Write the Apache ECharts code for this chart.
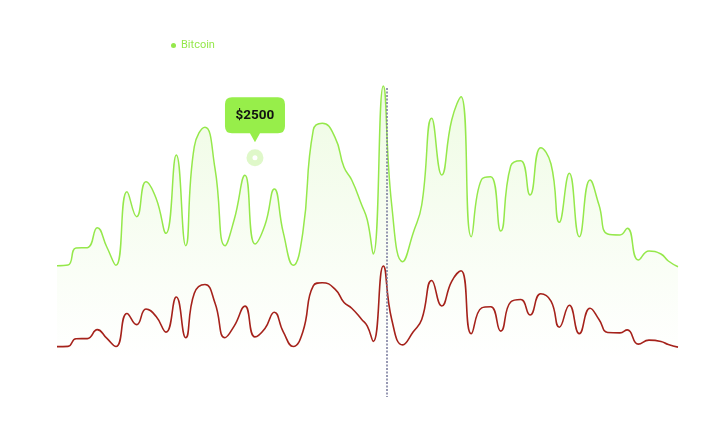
<!DOCTYPE html>
<html>
<head>
<meta charset="utf-8">
<script src="https://cdn.jsdelivr.net/npm/echarts@6/dist/echarts.min.js"></script>
<style>html,body{margin:0;padding:0;background:#fff}#c{width:703px;height:444px}</style>
</head>
<body>
<div id="c"></div>
<script>
// Time positions (0..100) and Bitcoin values
var days = [0,1.77,3.06,4.88,6.49,8.0,9.5,11.27,12.83,14.33,15.94,17.55,19.21,20.72,22.11,23.83,25.44,27.05,28.55,30.27,31.88,33.49,34.99,36.44,38.05,39.57,41.27,42.72,44.77,46.22,47.46,49.07,49.97,50.93,52.54,53.9,55.67,57.37,58.73,60.34,61.95,63.56,65.06,66.71,68.39,69.84,71.45,73.06,74.67,76.17,77.89,79.55,80.89,82.5,84.11,85.83,87.28,88.68,90.66,91.84,93.61,95.33,97.26,98.44,100];
var prices = [1372,1379,1557,1560,1769,1570,1376,2145,1884,2249,2079,1710,2528,1581,2615,2818,2389,1581,1857,2316,1599,1797,2173,1717,1376,1710,2790,2860,2713,2400,2267,2006,1849,1494,3249,2006,1414,1717,2006,2912,2319,2894,3138,1675,2275,2302,1734,2413,2469,2110,2605,2434,1825,2337,1675,2267,2006,1703,1693,1763,1431,1525,1494,1421,1361];
var calloutDay = 31.88;
var calloutValue = 2500;
var calloutText = '$2500';
var markerDay = 53.1;
var markerTop = 3228;
var seriesName = 'Bitcoin';

var pairs = days.map(function (d, i) { return [d, prices[i]]; });
var green = '#95e84b';
var red = '#a5221b';

var chart = echarts.init(document.getElementById('c'), null, {renderer: 'canvas'});
chart.setOption({
  animation: false,
  backgroundColor: '#ffffff',
  legend: {
    data: [seriesName],
    left: 166, top: 35,
    icon: 'circle', itemWidth: 5, itemHeight: 5, itemGap: 10,
    textStyle: {color: green, fontSize: 11, fontFamily: 'Roboto, sans-serif'}
  },
  grid: {left: 57, right: 25, top: 62, bottom: 47},
  xAxis: {type: 'value', min: 0, max: 100, show: false},
  yAxis: [
    {type: 'value', min: 0, max: 3500, show: false},
    {type: 'value', min: 200, max: 8000, show: false}
  ],
  series: [
    {
      name: seriesName, type: 'line', data: pairs, yAxisIndex: 0,
      smooth: 0.5, showSymbol: false, clip: false,
      lineStyle: {color: green, width: 1.5},
      itemStyle: {color: green},
      areaStyle: {
        color: new echarts.graphic.LinearGradient(0, 0, 0, 1, [
          {offset: 0, color: 'rgba(149,232,75,0.22)'},
          {offset: 0.5, color: 'rgba(149,232,75,0.09)'},
          {offset: 0.88, color: 'rgba(149,232,75,0)'},
          {offset: 1, color: 'rgba(149,232,75,0)'}
        ])
      },
      markLine: {
        silent: true, symbol: 'none',
        lineStyle: {color: '#76779a', type: [2, 1.5], width: 1.5},
        label: {show: false},
        data: [[{coord: [markerDay, markerTop]}, {coord: [markerDay, 0]}]]
      },
      markPoint: {
        silent: true,
        data: [
          {coord: [calloutDay, calloutValue], symbol: 'circle', symbolSize: 17,
            itemStyle: {color: 'rgba(149,232,75,0.3)'}, label: {show: false}},
          {coord: [calloutDay, calloutValue], symbol: 'circle', symbolSize: 5,
            itemStyle: {color: '#ffffff'}, label: {show: false}},
          {coord: [calloutDay, calloutValue],
            symbol: 'path://M7,0 L53,0 Q60,0 60,7 L60,29 Q60,36 53,36 L35,36 L30,45 L25,36 L7,36 Q0,36 0,29 L0,7 Q0,0 7,0 Z',
            symbolSize: [60, 45], symbolOffset: [0, -38],
            itemStyle: {color: '#97ee4a'},
            label: {show: true, position: 'inside', offset: [0, -4], formatter: calloutText,
              color: '#111111', fontWeight: 'bold', fontSize: 13.5, fontFamily: 'Roboto, sans-serif'}}
        ]
      }
    },
    {
      name: seriesName + ' trend', type: 'line', data: pairs, yAxisIndex: 1,
      smooth: 0.5, showSymbol: false,
      lineStyle: {color: red, width: 1.6},
      itemStyle: {color: red}
    }
  ]
});
</script>
</body>
</html>
